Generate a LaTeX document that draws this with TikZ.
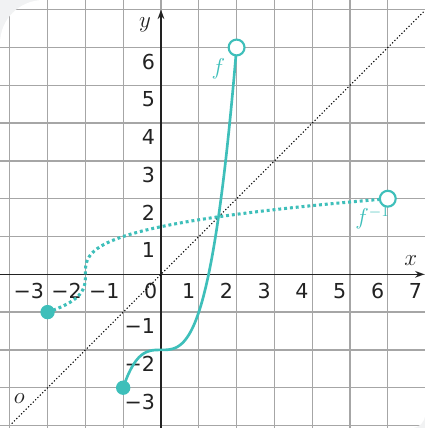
\documentclass[tikz,border=0pt]{standalone}
\usepackage{fontspec}
\newfontfamily\tickfont{DejaVu Sans}
\usetikzlibrary{arrows.meta}
\definecolor{fteal}{HTML}{3EBFBA}
\definecolor{gridc}{HTML}{A6A6A6}
\definecolor{bggray}{HTML}{F1F2F3}
\definecolor{axc}{HTML}{222222}
\begin{document}
\begin{tikzpicture}[x=1cm,y=1cm,
  ticklbl/.style={font=\tickfont\fontsize{15.5}{18}\selectfont, inner sep=0pt, text=axc},
  axlbl/.style={font=\fontsize{17}{20}\selectfont\itshape, inner sep=0pt, text=axc},
  flbl/.style={font=\fontsize{18}{21}\selectfont\itshape, inner sep=0pt, text=fteal},
  fulldot/.style={circle, fill=fteal, minimum size=0.38cm, inner sep=0pt},
  opendot/.style={circle, draw=fteal, fill=white, line width=1.6pt, minimum size=0.42cm, inner sep=0pt},
  fcurve/.style={fteal, line width=2pt},
  ficurve/.style={fteal, line width=2.3pt, dash pattern=on 2.2pt off 2.2pt},
  idline/.style={black, line width=0.8pt, dash pattern=on 0.9pt off 1.6pt},
  axis/.style={axc, line width=1.1pt, -{Stealth[length=7pt,width=5pt]}}
]
\useasboundingbox (-4.259,-4.066) rectangle (6.984,7.257);
\fill[bggray] (-4.259,-4.066) rectangle (6.984,7.257);
\def\card{(6.984,-4.066+0.35) -- (6.984,7.257) -- (-4.259+1.15,7.257) arc[start angle=90,end angle=180,radius=1.15] -- (-4.259,-4.066) -- (6.984-0.35,-4.066) arc[start angle=-90,end angle=0,radius=0.35] -- cycle}
\fill[white] \card;
\begin{scope}
  \clip \card;
  \draw[gridc, line width=1.0pt] (-4.259,-4.066) grid (6.984,7.257);
\end{scope}
% axes
\coordinate (xs) at (-4.259,0);
\coordinate (xe) at (6.97,0);
\coordinate (ys) at (0,-4.066);
\coordinate (ye) at (0,7.0);
\draw[axis] (xs) -- (xe);
\draw[axis] (ys) -- (ye);
% tick labels
\foreach \i/\t in {-3/−3,-2/−2,-1/−1,0/0,1/1,2/2,3/3,4/4,5/5,6/6,7/7} {
  \node[ticklbl, anchor=north east] (tx\i) at (\i-0.09,-0.24) {\t};
}
\foreach \i/\t in {-3/−3,-2/−2,-1/−1,1/1,2/2,3/3,4/4,5/5,6/6} {
  \node[ticklbl, anchor=north east] (ty\i) at (-0.15,\i-0.16) {\t};
}
\node[axlbl] (xl) at (6.61,0.36) {$x$};
\node[axlbl] (yl) at (-0.42,6.6) {$y$};
\node[axlbl] (ol) at (-3.75,-3.28) {$o$};
% identity line
\coordinate (i1) at (-3.95,-3.95);
\coordinate (i2) at (6.95,6.95);
\draw[idline] (i1) -- (i2);
% curves
\draw[fcurve, domain=-1:2, samples=120, smooth] plot (\x, {\x*\x*\x-2});
\draw[ficurve, domain=-1:2, samples=120, smooth] plot ({\x*\x*\x-2}, \x);
% endpoints
\node[fulldot] (fa) at (-1,-3) {};
\node[opendot] (fb) at (2,6) {};
\node[fulldot] (ga) at (-3,-1) {};
\node[opendot] (gb) at (6,2) {};
% labels
\node[flbl] (fl) at (1.52,5.45) {$f$};
\node[flbl] (gl) at (5.6,1.5) {$f^{-1}$};
\end{tikzpicture}
\end{document}
